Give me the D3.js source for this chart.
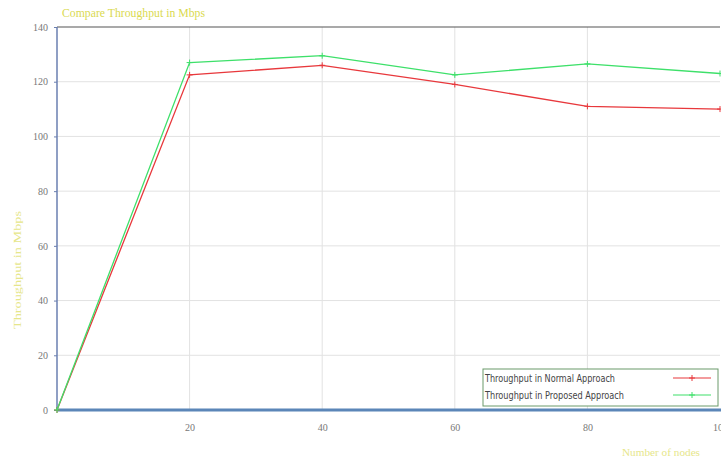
<!DOCTYPE html>
<html><head><meta charset="utf-8">
<script src="https://cdn.jsdelivr.net/npm/d3@7"></script>
<style>body{margin:0;background:#fff;overflow:hidden}svg{display:block}</style>
</head><body>
<script>
const nodes = [0, 20, 40, 60, 80, 100];
const normal = [0, 122.5, 126, 119, 111, 110];
const proposed = [0, 127, 129.5, 122.5, 126.5, 123];
const xTicks = [20, 40, 60, 80, 100];
const yTicks = [0, 20, 40, 60, 80, 100, 120, 140];
const seriesNames = ["Throughput in Normal Approach", "Throughput in Proposed Approach"];
const seriesColors = ["#e8383c", "#3ee06a"];

const W = 721, H = 462;
const m = {l: 57, r: 1, t: 27, b: 52};
const svg = d3.select("body").append("svg").attr("width", W).attr("height", H);
const x = d3.scaleLinear().domain([0, 100]).range([m.l, W - m.r]);
const y = d3.scaleLinear().domain([0, 140]).range([H - m.b, m.t]);

// grid
svg.append("g").selectAll("line").data(xTicks.filter(d => d < 100)).join("line")
  .attr("x1", d => x(d)).attr("x2", d => x(d)).attr("y1", y(0)).attr("y2", y(140))
  .attr("stroke", "#e2e2e2").attr("stroke-width", 1);
svg.append("g").selectAll("line").data(yTicks.filter(d => d > 0 && d < 140)).join("line")
  .attr("x1", x(0)).attr("x2", x(100)).attr("y1", d => y(d)).attr("y2", d => y(d))
  .attr("stroke", "#e2e2e2").attr("stroke-width", 1);

// frame
svg.append("line").attr("x1", x(0)).attr("x2", x(100)).attr("y1", y(140)).attr("y2", y(140))
  .attr("stroke", "#555").attr("stroke-width", 1.2);
svg.append("line").attr("x1", x(0)).attr("x2", x(0)).attr("y1", y(0)).attr("y2", y(140))
  .attr("stroke", "#6a7fb0").attr("stroke-width", 1.5);
svg.append("line").attr("x1", x(0)).attr("x2", W).attr("y1", y(0)).attr("y2", y(0))
  .attr("stroke", "#5b86b8").attr("stroke-width", 3);

// axes ticks/labels
const ya = d3.axisLeft(y).tickValues(yTicks).tickSize(3).tickPadding(6);
const gy = svg.append("g").attr("transform", `translate(${x(0)},0)`).call(ya);
gy.select(".domain").remove();
gy.selectAll(".tick line").attr("stroke", "#6a7fb0");
gy.selectAll("text").attr("fill", "#777").style("font-family", "'Liberation Serif', serif").style("font-size", "10px");

const xa = d3.axisBottom(x).tickValues(xTicks).tickSize(0).tickPadding(14);
const gx = svg.append("g").attr("transform", `translate(0,${y(0)})`).call(xa);
gx.select(".domain").remove();
gx.selectAll("text").attr("fill", "#777").style("font-family", "'Liberation Serif', serif").style("font-size", "10px");

// lines
const line = d3.line().x((d, i) => x(nodes[i])).y(d => y(d));
[normal, proposed].forEach((s, k) => {
  svg.append("path").datum(s).attr("d", line).attr("fill", "none")
    .attr("stroke", seriesColors[k]).attr("stroke-width", 1.3);
  svg.append("g").selectAll("path").data(s).join("path")
    .attr("d", (d, i) => `M${x(nodes[i]) - 3},${y(d)}h6M${x(nodes[i])},${y(d) - 3}v6`)
    .attr("stroke", seriesColors[k]).attr("stroke-width", 1);
});

// titles
svg.append("text").attr("x", 62).attr("y", 17).text("Compare Throughput in Mbps")
  .attr("fill", "#dada50").style("font-family", "'Liberation Serif', serif").style("font-size", "12px")
  .attr("textLength", 143).attr("lengthAdjust", "spacingAndGlyphs");
svg.append("text").attr("transform", `translate(21,${270}) rotate(-90)`).attr("text-anchor", "middle")
  .text("Throughput in Mbps").attr("fill", "#e6e68a")
  .style("font-family", "'Liberation Serif', serif").style("font-size", "11px")
  .attr("textLength", 118).attr("lengthAdjust", "spacingAndGlyphs");
svg.append("text").attr("x", 661).attr("y", 456).attr("text-anchor", "middle").text("Number of nodes")
  .attr("fill", "#e6e68a").style("font-family", "'Liberation Serif', serif").style("font-size", "10px")
  .attr("textLength", 78).attr("lengthAdjust", "spacingAndGlyphs");

// legend
const lg = svg.append("g");
lg.append("rect").attr("x", 483).attr("y", 369).attr("width", 235).attr("height", 37)
  .attr("fill", "#fff").attr("stroke", "#6a9a6a").attr("stroke-width", 1);
seriesNames.forEach((n, k) => {
  const yy = 378 + k * 17;
  lg.append("text").attr("x", 485).attr("y", yy + 4).text(n).attr("fill", "#444")
    .style("font-family", "'Liberation Sans Narrow', 'DejaVu Sans Condensed', sans-serif").style("font-size", "10px")
    .attr("textLength", k === 0 ? 130 : 139).attr("lengthAdjust", "spacingAndGlyphs");
  lg.append("line").attr("x1", 673).attr("x2", 711).attr("y1", yy).attr("y2", yy)
    .attr("stroke", seriesColors[k]).attr("stroke-width", 1.2);
  lg.append("path").attr("d", `M689,${yy}h6M692,${yy - 3}v6`).attr("stroke", seriesColors[k]);
});
</script>
</body></html>
